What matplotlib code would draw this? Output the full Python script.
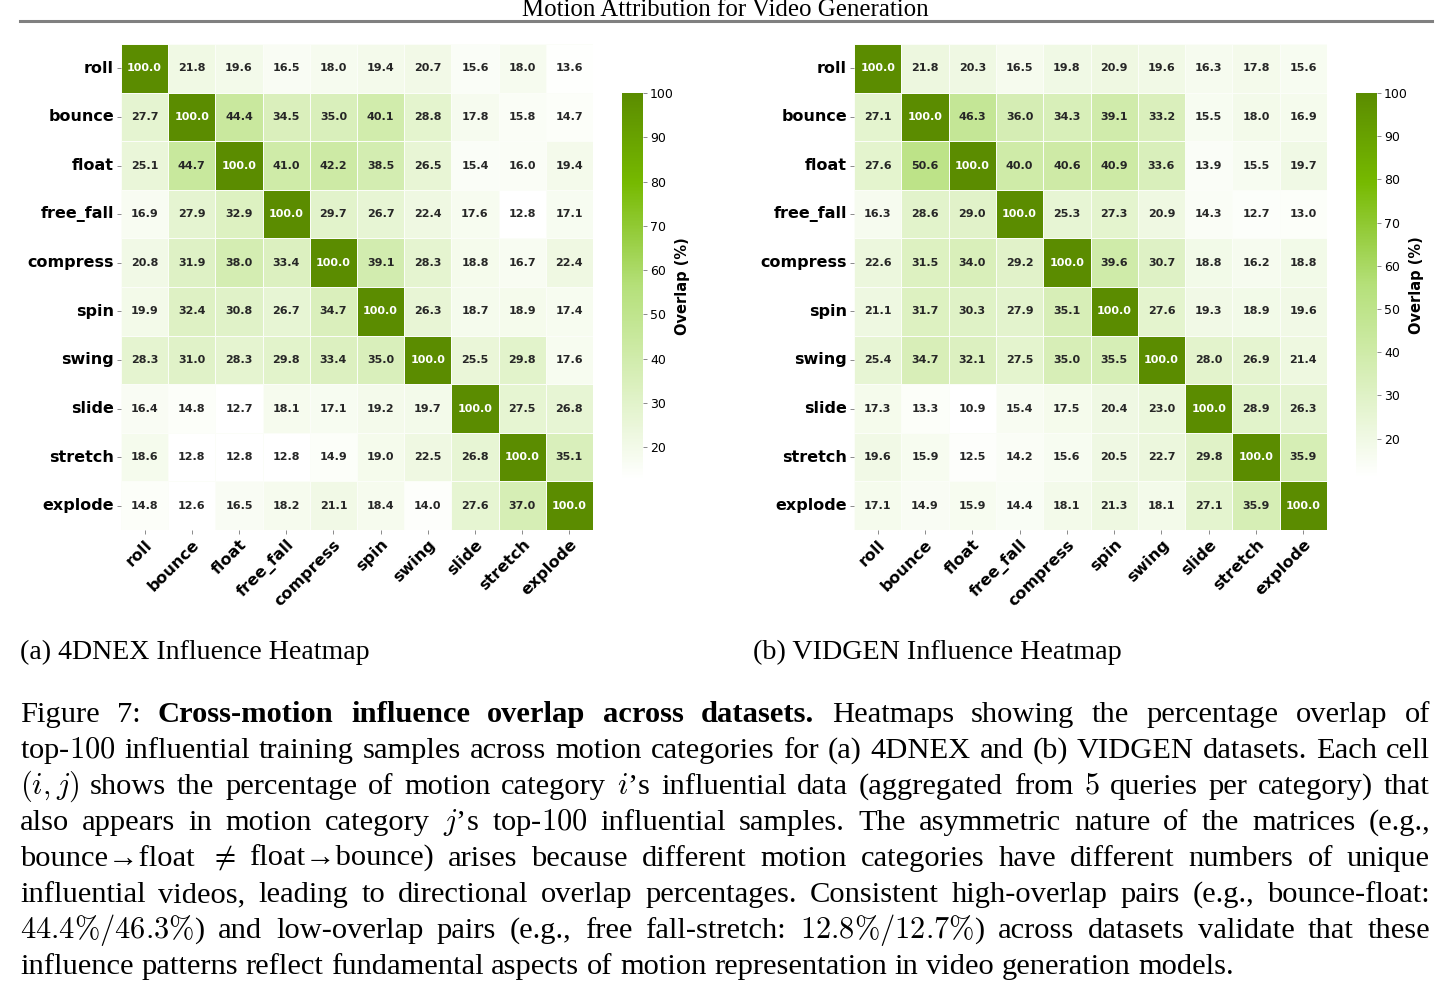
import matplotlib
matplotlib.use("Agg")
import matplotlib.pyplot as plt
from matplotlib.colors import LinearSegmentedColormap
from matplotlib.lines import Line2D
import numpy as np
import pandas as pd
import seaborn as sns

W, H = 1450, 990
SERIF = "Liberation Serif"

MOTIONS = ["roll", "bounce", "float", "free_fall", "compress",
           "spin", "swing", "slide", "stretch", "explode"]

OVERLAP_4DNEX = [
    [100.0, 21.8, 19.6, 16.5, 18.0, 19.4, 20.7, 15.6, 18.0, 13.6],
    [27.7, 100.0, 44.4, 34.5, 35.0, 40.1, 28.8, 17.8, 15.8, 14.7],
    [25.1, 44.7, 100.0, 41.0, 42.2, 38.5, 26.5, 15.4, 16.0, 19.4],
    [16.9, 27.9, 32.9, 100.0, 29.7, 26.7, 22.4, 17.6, 12.8, 17.1],
    [20.8, 31.9, 38.0, 33.4, 100.0, 39.1, 28.3, 18.8, 16.7, 22.4],
    [19.9, 32.4, 30.8, 26.7, 34.7, 100.0, 26.3, 18.7, 18.9, 17.4],
    [28.3, 31.0, 28.3, 29.8, 33.4, 35.0, 100.0, 25.5, 29.8, 17.6],
    [16.4, 14.8, 12.7, 18.1, 17.1, 19.2, 19.7, 100.0, 27.5, 26.8],
    [18.6, 12.8, 12.8, 12.8, 14.9, 19.0, 22.5, 26.8, 100.0, 35.1],
    [14.8, 12.6, 16.5, 18.2, 21.1, 18.4, 14.0, 27.6, 37.0, 100.0],
]

OVERLAP_VIDGEN = [
    [100.0, 21.8, 20.3, 16.5, 19.8, 20.9, 19.6, 16.3, 17.8, 15.6],
    [27.1, 100.0, 46.3, 36.0, 34.3, 39.1, 33.2, 15.5, 18.0, 16.9],
    [27.6, 50.6, 100.0, 40.0, 40.6, 40.9, 33.6, 13.9, 15.5, 19.7],
    [16.3, 28.6, 29.0, 100.0, 25.3, 27.3, 20.9, 14.3, 12.7, 13.0],
    [22.6, 31.5, 34.0, 29.2, 100.0, 39.6, 30.7, 18.8, 16.2, 18.8],
    [21.1, 31.7, 30.3, 27.9, 35.1, 100.0, 27.6, 19.3, 18.9, 19.6],
    [25.4, 34.7, 32.1, 27.5, 35.0, 35.5, 100.0, 28.0, 26.9, 21.4],
    [17.3, 13.3, 10.9, 15.4, 17.5, 20.4, 23.0, 100.0, 28.9, 26.3],
    [19.6, 15.9, 12.5, 14.2, 15.6, 20.5, 22.7, 29.8, 100.0, 35.9],
    [17.1, 14.9, 15.9, 14.4, 18.1, 21.3, 18.1, 27.1, 35.9, 100.0],
]

CBAR_TICKS = [20, 30, 40, 50, 60, 70, 80, 90, 100]

HEADER = "Motion Attribution for Video Generation"
SUBCAPTIONS = ["(a) 4DNEX Influence Heatmap", "(b) VIDGEN Influence Heatmap"]

# caption lines as (text, bold) segments; all but the last line are justified
CAPTION = [
    [("Figure 7:", False), ("Cross-motion influence overlap across datasets.", True),
     ("Heatmaps showing the percentage overlap of", False)],
    [("top-$100$ influential training samples across motion categories for (a) 4DNEX "
      "and (b) VIDGEN datasets. Each cell", False)],
    [("$(i,j)$ shows the percentage of motion category $i$\u2019s influential data "
      "(aggregated from $5$ queries per category) that", False)],
    [("also appears in motion category $j$\u2019s top-$100$ influential samples. "
      "The asymmetric nature of the matrices (e.g.,", False)],
    [("bounce\u2192float $\\neq$ float\u2192bounce) arises because "
      "different motion categories have different numbers of unique", False)],
    [("influential videos, leading to directional overlap percentages. Consistent "
      "high-overlap pairs (e.g., bounce-float:", False)],
    [(r"$44.4\%/46.3\%$) and low-overlap pairs (e.g., free fall-stretch: "
      r"$12.8\%/12.7\%$) across datasets validate that these", False)],
    [("influence patterns reflect fundamental aspects of motion representation "
      "in video generation models.", False)],
]

plt.rcParams["mathtext.fontset"] = "cm"

cmap = LinearSegmentedColormap.from_list(
    "overlap", [(0.0, "#ffffff"), (0.5, "#b5e07a"), (0.77, "#76b900"), (1.0, "#5b8c00")])

fig = plt.figure(figsize=(W / 100, H / 100), dpi=100)
renderer = fig.canvas.get_renderer()


def box(x0, y0, x1, y1):
    return [x0 / W, 1 - y1 / H, (x1 - x0) / W, (y1 - y0) / H]


def put(x, y, s, size, **kw):
    return fig.text(x / W, 1 - y / H, s, fontsize=size, family=SERIF,
                    va="baseline", **kw)


def width(t):
    return t.get_window_extent(renderer).width


def fit(x, y, s, target, **kw):
    t = put(x, y, s, 20, **kw)
    t.set_fontsize(20 * target / width(t))
    return t


# --- heatmaps ---
panels = [
    (OVERLAP_4DNEX, (121, 44, 593, 530), (622, 93, 643, 480), 683),
    (OVERLAP_VIDGEN, (854, 44, 1327, 530), (1356, 93, 1377, 478), 1417),
]
for data, hm, cb, label_x in panels:
    ax = fig.add_axes(box(*hm))
    cax = fig.add_axes(box(*cb))
    df = pd.DataFrame(data, index=MOTIONS, columns=MOTIONS)
    sns.heatmap(df, ax=ax, cbar_ax=cax, cmap=cmap, annot=True, fmt=".1f",
                annot_kws={"fontsize": 8, "fontweight": "bold"},
                linewidths=0.4, linecolor="#fbfdf8",
                cbar_kws={"ticks": CBAR_TICKS})
    ax.set_xticklabels(MOTIONS, rotation=45, ha="right", rotation_mode="anchor",
                       fontsize=11.5, fontweight="bold")
    ax.set_yticklabels(MOTIONS, rotation=0, fontsize=11.5, fontweight="bold")
    ax.tick_params(length=3, width=0.6, color="#777777", pad=2)
    cax.tick_params(labelsize=9, length=3, width=0.6, color="#777777", pad=2)
    fig.text(label_x / W, 1 - (cb[1] + cb[3]) / 2 / H, "Overlap (%)", rotation=90,
             ha="center", va="center", fontsize=10.5, fontweight="bold")

# --- page decorations ---
fit(725, 16, HEADER, 405, ha="center")
fig.add_artist(Line2D([20 / W, 1432 / W], [1 - 20.7 / H] * 2, color="#808080", lw=2.2))
fit(20, 659, SUBCAPTIONS[0], 350)
fit(753, 659, SUBCAPTIONS[1], 369)

# --- justified caption ---
X0, X1, Y0, LEAD = 20, 1430, 722, 36
lines = [[(w, b) for seg, b in line for w in seg.split()] for line in CAPTION]

base = 20
probe = put(0, 0, "a a", base)
probe2 = put(0, 0, "aa", base)
space = width(probe) - width(probe2)
probe.remove()
probe2.remove()
natural = []
for words in lines[:-1]:
    ts = [put(0, 0, w, base, fontweight="bold" if b else "normal") for w, b in words]
    natural.append(sum(width(t) for t in ts) + space * (len(ts) - 1))
    for t in ts:
        t.remove()
size = min(23, max(18, base * 0.985 * (X1 - X0) / max(natural)))
space *= size / base

for i, words in enumerate(lines):
    y = Y0 + LEAD * i
    ts = [put(0, y, w, size, fontweight="bold" if b else "normal") for w, b in words]
    ws = [width(t) for t in ts]
    gap = (X1 - X0 - sum(ws)) / (len(ts) - 1) if i < len(lines) - 1 else space
    x = X0
    for t, w in zip(ts, ws):
        t.set_x(x / W)
        x += w + gap

fig.savefig("out.png", dpi=100)
